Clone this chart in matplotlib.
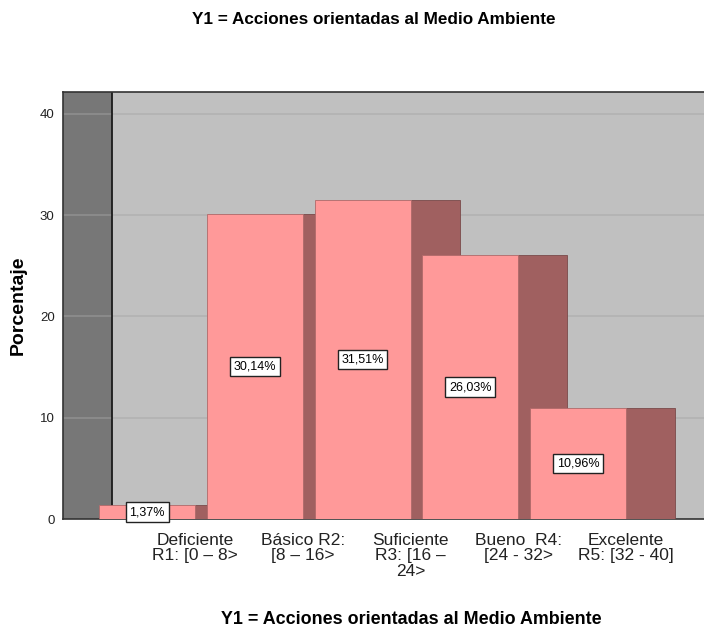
import matplotlib
matplotlib.use("Agg")
import matplotlib.pyplot as plt
from matplotlib.patches import Rectangle

# datos del grafico
categorias = ["Deficiente\nR1: [0 – 8>", "Básico R2:\n[8 – 16>", "Suficiente\nR3: [16 –\n24>",
              "Bueno  R4:\n[24 - 32>", "Excelente\nR5: [32 - 40]"]
porcentajes = [1.37, 30.14, 31.51, 26.03, 10.96]
etiquetas = ["1,37%", "30,14%", "31,51%", "26,03%", "10,96%"]
yticks = [0, 10, 20, 30, 40]

titulo = "Y1 = Acciones orientadas al Medio Ambiente"

plt.rcParams['font.family'] = ['Liberation Sans', 'DejaVu Sans']

fig = plt.figure(figsize=(7.04, 6.35), dpi=100)
ax = fig.add_axes([63/704, 116/635, 641/704, 427/635])

xmin, xmax = -0.7796, 5.169
ymax = 42.17
muro = -0.3248     # borde derecho de la pared lateral
ancho = 0.891      # ancho de la cara frontal
prof = 0.455       # profundidad 3D

ax.set_xlim(xmin, xmax)
ax.set_ylim(0, ymax)
ax.set_facecolor('#C0C0C0')

# pared lateral izquierda
ax.add_patch(Rectangle((xmin, 0), muro - xmin, ymax, facecolor='#777777', edgecolor='none', zorder=1))
for y in yticks[1:]:
    ax.plot([xmin, muro], [y, y], color='#8E8E8E', lw=1.2, zorder=1.5)
    ax.plot([muro, xmax], [y, y], color='#B2B2B2', lw=1.2, zorder=1.5)
ax.axvline(muro, color='#1a1a1a', lw=1.3, zorder=2)

# barras con efecto 3D
for i, v in enumerate(porcentajes):
    x0 = i - ancho / 2
    ax.add_patch(Rectangle((x0 + ancho, 0), prof, v, facecolor='#A06060',
                           edgecolor='#7a4a4a', lw=0.6, zorder=3 + 2 * i))
    ax.add_patch(Rectangle((x0, 0), ancho, v, facecolor='#FF9999',
                           edgecolor='#b06a6a', lw=0.6, zorder=4 + 2 * i))
    ax.text(i, v / 2, etiquetas[i], ha='center', va='center', fontsize=9, zorder=20,
            bbox=dict(boxstyle='square,pad=0.3', facecolor='white', edgecolor='#222222', lw=1))

ax.set_yticks(yticks)
ax.set_yticklabels([str(t) for t in yticks], fontsize=9.5, color='#222222')
ax.set_xticks([i + ancho / 2 for i in range(len(categorias))])
ax.set_xticklabels(categorias, fontsize=12.5, color='#222222', linespacing=1.05)
ax.tick_params(axis='both', length=0)
ax.tick_params(axis='y', pad=6)
ax.tick_params(axis='x', pad=10)

for s in ['right']:
    ax.spines[s].set_visible(False)
for s in ['left', 'top', 'bottom']:
    ax.spines[s].set_color('#333333')
    ax.spines[s].set_linewidth(1.2)

fig.text(373.5/704, 1 - 19/635, titulo, ha='center', va='center', fontsize=12.3, fontweight='bold')
fig.text(411/704, 1 - 620/635, titulo, ha='center', va='center', fontsize=12.9, fontweight='bold')
fig.text(18/704, 1 - 305/635, "Porcentaje", ha='center', va='center', rotation=90,
         fontsize=14, fontweight='bold')

fig.savefig('out.png', dpi=100)
